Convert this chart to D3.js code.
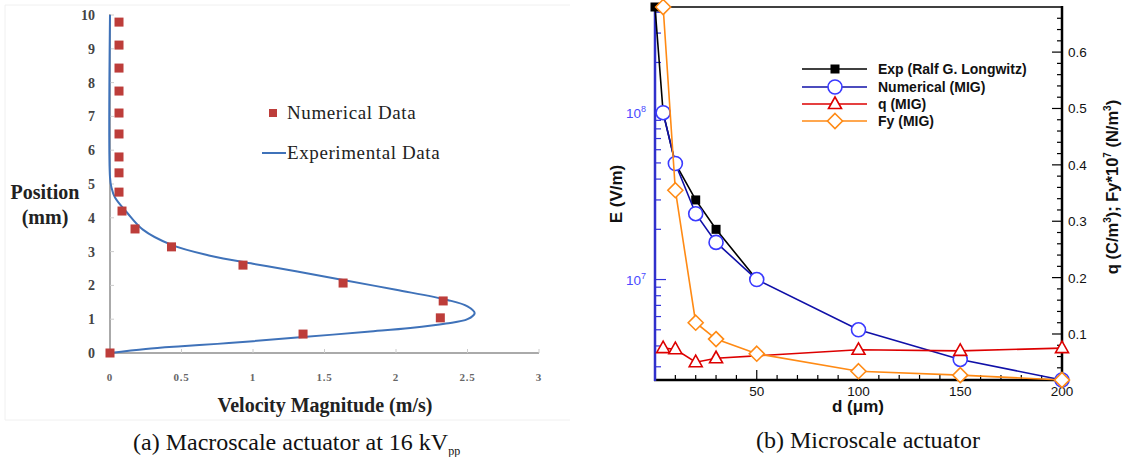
<!DOCTYPE html>
<html>
<head>
<meta charset="utf-8">
<script src="https://cdn.jsdelivr.net/npm/d3@7"></script>
<style>
  body { margin: 0; background: #fff; }
  svg { display: block; }
</style>
</head>
<body>
<svg id="chart" width="1124" height="457"></svg>
<script>
// ---- panel (a) data: velocity (m/s) vs position (mm)
var numVel = [0, 0.063, 0.063, 0.063, 0.063, 0.063, 0.063, 0.063, 0.063, 0.063, 0.084, 0.175, 0.43, 0.93, 1.63, 2.33, 2.31, 1.35];
var numPos = [0, 9.79, 9.11, 8.43, 7.75, 7.10, 6.48, 5.80, 5.33, 4.76, 4.20, 3.67, 3.14, 2.60, 2.07, 1.54, 1.04, 0.56];
var expVel = [0, 0.25, 0.5, 0.75, 1.0, 1.35, 1.8, 2.1, 2.35, 2.5, 2.55, 2.5, 2.36, 2.0, 1.63, 1.3, 1.0, 0.7, 0.43, 0.23, 0.12, 0.035, 0.01, 0, 0];
var expPos = [0, 0.12, 0.2, 0.27, 0.35, 0.47, 0.63, 0.74, 0.87, 1.0, 1.18, 1.38, 1.57, 1.87, 2.16, 2.42, 2.64, 2.88, 3.2, 3.65, 4.15, 4.6, 4.9, 5.2, 10];
var velTicks = [0, 0.5, 1, 1.5, 2, 2.5, 3];
var posTicks = [0, 1, 2, 3, 4, 5, 6, 7, 8, 9, 10];

// ---- panel (b) data: d (um)
var expD = [0, 4, 10, 20, 30, 50];
var expE = [4.3e8, 1e8, 4.96e7, 3.0e7, 2.0e7, 1.0e7];
var numD = [4, 10, 20, 30, 50, 100, 150, 200];
var numE = [1e8, 4.96e7, 2.48e7, 1.67e7, 1.0e7, 5.0e6, 3.32e6, 2.5e6];
var qD = [4, 10, 20, 30, 100, 150, 200];
var qVal = [0.075, 0.073, 0.050, 0.057, 0.072, 0.070, 0.075];
var fyD = [4, 10, 20, 30, 50, 100, 150, 200];
var fyVal = [0.68, 0.355, 0.12, 0.091, 0.065, 0.034, 0.027, 0.0184];
var dTicks = [50, 100, 150, 200];
var rTicks = [0.1, 0.2, 0.3, 0.4, 0.5, 0.6];
var legendNames = ['Exp (Ralf G. Longwitz)', 'Numerical (MIG)', 'q (MIG)', 'Fy (MIG)'];

var svg = d3.select('#chart');
var serif = '"Liberation Serif", "Times New Roman", serif';
var sans = '"Liberation Sans", Arial, sans-serif';

// ================= panel (a) =================
var xa = d3.scaleLinear().domain([0, 3]).range([110, 539]);
var ya = d3.scaleLinear().domain([0, 10]).range([353, 15]);

svg.append('path')
  .attr('d', 'M570,5 H5 V420 H570')
  .attr('fill', 'none').attr('stroke', '#f0f0f0');

var ga = svg.append('g');
// axis lines
ga.append('line').attr('x1', xa(0)).attr('x2', xa(0)).attr('y1', ya(10) - 1).attr('y2', ya(0))
  .attr('stroke', '#aaa').attr('stroke-width', 2);
ga.append('line').attr('x1', xa(0)).attr('x2', xa(3)).attr('y1', ya(0)).attr('y2', ya(0))
  .attr('stroke', '#aaa').attr('stroke-width', 2);
ga.selectAll('line.yt').data(posTicks).enter().append('line').attr('class', 'yt')
  .attr('x1', xa(0)).attr('x2', xa(0) + 4).attr('y1', function(d){ return ya(d); }).attr('y2', function(d){ return ya(d); })
  .attr('stroke', '#ccc');
ga.selectAll('line.xt').data(velTicks).enter().append('line').attr('class', 'xt')
  .attr('x1', function(d){ return xa(d); }).attr('x2', function(d){ return xa(d); }).attr('y1', ya(0)).attr('y2', ya(0) - 4)
  .attr('stroke', '#ccc');
ga.selectAll('text.yl').data(posTicks).enter().append('text').attr('class', 'yl')
  .attr('x', 95).attr('y', function(d){ return ya(d) + 5; })
  .attr('text-anchor', 'end').attr('font-family', serif).attr('font-weight', 'bold')
  .attr('font-size', 14).attr('fill', '#444').text(function(d){ return d; });
ga.selectAll('text.xl').data(velTicks).enter().append('text').attr('class', 'xl')
  .attr('x', function(d){ return xa(d); }).attr('y', 381)
  .attr('text-anchor', 'middle').attr('font-family', serif).attr('font-weight', 'bold')
  .attr('font-size', 11).attr('letter-spacing', 0.8).attr('fill', '#666').text(function(d){ return d; });

// experimental curve
var lineA = d3.line()
  .x(function(d){ return xa(d[0]); })
  .y(function(d){ return ya(d[1]); })
  .curve(d3.curveCatmullRom.alpha(0.5));
ga.append('path').datum(expVel.map(function(v, i){ return [v, expPos[i]]; }))
  .attr('d', lineA).attr('fill', 'none').attr('stroke', '#3f72b9').attr('stroke-width', 2);

// numerical squares
ga.selectAll('rect.num').data(numVel.map(function(v, i){ return [v, numPos[i]]; }))
  .enter().append('rect').attr('class', 'num')
  .attr('x', function(d){ return xa(d[0]) - 4.5; }).attr('y', function(d){ return ya(d[1]) - 4.5; })
  .attr('width', 9).attr('height', 9).attr('fill', '#bd3d3a');

// titles
ga.append('text').attr('x', 45).attr('y', 199).attr('text-anchor', 'middle')
  .attr('font-family', serif).attr('font-weight', 'bold').attr('font-size', 20).attr('fill', '#222').text('Position');
ga.append('text').attr('x', 45).attr('y', 224).attr('text-anchor', 'middle')
  .attr('font-family', serif).attr('font-weight', 'bold').attr('font-size', 20).attr('fill', '#222').text('(mm)');
ga.append('text').attr('x', 325).attr('y', 412).attr('text-anchor', 'middle')
  .attr('font-family', serif).attr('font-weight', 'bold').attr('font-size', 20).attr('fill', '#222').text('Velocity Magnitude (m/s)');

// legend
ga.append('rect').attr('x', 269).attr('y', 109).attr('width', 8).attr('height', 8).attr('fill', '#bd3d3a');
ga.append('text').attr('x', 287).attr('y', 119).attr('font-family', serif).attr('font-size', 19).attr('letter-spacing', 0.6).attr('fill', '#222').text('Numerical Data');
ga.append('line').attr('x1', 262).attr('x2', 286).attr('y1', 153).attr('y2', 153).attr('stroke', '#3f72b9').attr('stroke-width', 2);
ga.append('text').attr('x', 287).attr('y', 159).attr('font-family', serif).attr('font-size', 19).attr('letter-spacing', 0.6).attr('fill', '#222').text('Experimental Data');

// caption
var capA = svg.append('text').attr('x', 133).attr('y', 450).attr('font-family', serif).attr('font-size', 24).attr('fill', '#111');
capA.append('tspan').text('(a) Macroscale actuator at 16 kV');
capA.append('tspan').attr('font-size', 12).attr('dy', 5).text('pp');

// ================= panel (b) =================
var xb = d3.scaleLinear().domain([0, 200]).range([655, 1062]);
var yE = d3.scaleLog().domain([2.5e6, 4.3e8]).range([380, 7]);
var yR = d3.scaleLinear().domain([0.0184, 0.68]).range([380, 7]);
var gb = svg.append('g');

// frame
gb.append('line').attr('x1', 655).attr('x2', 1062).attr('y1', 7).attr('y2', 7).attr('stroke', '#000').attr('stroke-width', 1.5);

// bottom ticks (inward)
var minorD = d3.range(10, 200, 10);
gb.selectAll('line.dt').data(minorD).enter().append('line').attr('class', 'dt')
  .attr('x1', function(d){ return xb(d); }).attr('x2', function(d){ return xb(d); })
  .attr('y1', 380).attr('y2', function(d){ return d % 50 === 0 ? 370 : 375; })
  .attr('stroke', '#000').attr('stroke-width', 1.2);
gb.selectAll('text.dl').data(dTicks).enter().append('text').attr('class', 'dl')
  .attr('x', function(d){ return xb(d); }).attr('y', 396).attr('text-anchor', 'middle')
  .attr('font-family', sans).attr('font-size', 13.5).attr('fill', '#111').text(function(d){ return d; });

// left log axis ticks
var logTicks = [];
[1e6, 1e7, 1e8].forEach(function(b){ for (var k = 1; k < 10; k++) { var v = b * k; if (v >= 2.5e6 && v <= 4.3e8) logTicks.push(v); } });
gb.selectAll('line.et').data(logTicks).enter().append('line').attr('class', 'et')
  .attr('x1', 655).attr('x2', function(d){ return Math.abs(Math.log10(d) % 1) < 1e-9 ? 666 : 661; })
  .attr('y1', function(d){ return yE(d); }).attr('y2', function(d){ return yE(d); })
  .attr('stroke', '#3333dd').attr('stroke-width', 1.2);
[7, 8].forEach(function(p){
  var t = gb.append('text').attr('x', 646).attr('y', yE(Math.pow(10, p)) + 5).attr('text-anchor', 'end')
    .attr('font-family', sans).attr('font-size', 13.5).attr('fill', '#4a4aff');
  t.append('tspan').text('10');
  t.append('tspan').attr('font-size', 9).attr('dy', -6).text(p);
});

// right axis ticks
var minorR = d3.range(2, 68, 2).map(function(k){ return k / 100; });
gb.selectAll('line.rt').data(minorR).enter().append('line').attr('class', 'rt')
  .attr('x1', 1062).attr('x2', function(d){ return Math.round(d * 100) % 10 === 0 ? 1052 : 1057; })
  .attr('y1', function(d){ return yR(d); }).attr('y2', function(d){ return yR(d); })
  .attr('stroke', '#000').attr('stroke-width', 1.2);
gb.selectAll('text.rl').data(rTicks).enter().append('text').attr('class', 'rl')
  .attr('x', 1068).attr('y', function(d){ return yR(d) + 5; })
  .attr('font-family', sans).attr('font-size', 13.5).attr('fill', '#111').text(function(d){ return d.toFixed(1); });

// axis lines
gb.append('line').attr('x1', 654).attr('x2', 1063).attr('y1', 380).attr('y2', 380).attr('stroke', '#000').attr('stroke-width', 2.5);
gb.append('line').attr('x1', 1062).attr('x2', 1062).attr('y1', 6).attr('y2', 381).attr('stroke', '#000').attr('stroke-width', 2.5);
gb.append('line').attr('x1', 655).attr('x2', 655).attr('y1', 6).attr('y2', 381).attr('stroke', '#3030cc').attr('stroke-width', 2.5);

// marker helpers
function sq(sel){ sel.append('rect').attr('x', -4.5).attr('y', -4.5).attr('width', 9).attr('height', 9).attr('fill', '#000'); }
function ci(sel){ sel.append('circle').attr('r', 7).attr('fill', '#fff').attr('stroke', '#3a3aff').attr('stroke-width', 1.6); }
function tri(sel){ sel.append('path').attr('d', 'M0,-7 L6.5,4.5 L-6.5,4.5 Z').attr('fill', '#fff').attr('stroke', '#dd0000').attr('stroke-width', 1.6); }
function dia(sel){ sel.append('path').attr('d', 'M0,-7.5 L7.5,0 L0,7.5 L-7.5,0 Z').attr('fill', '#fff').attr('stroke', '#ff8a14').attr('stroke-width', 1.6); }

var series = [
  { xs: expD, ys: expE, y: yE, line: '#000', mark: sq },
  { xs: numD, ys: numE, y: yE, line: '#1010a8', mark: ci },
  { xs: qD, ys: qVal, y: yR, line: '#dd0000', mark: tri },
  { xs: fyD, ys: fyVal, y: yR, line: '#ff8a14', mark: dia }
];
series.forEach(function(s){
  var pts = s.xs.map(function(d, i){ return [xb(d), s.y(s.ys[i])]; });
  gb.append('path').datum(pts).attr('d', d3.line()).attr('fill', 'none').attr('stroke', s.line).attr('stroke-width', 1.6);
  gb.selectAll(null).data(pts).enter().append('g')
    .attr('transform', function(p){ return 'translate(' + p[0] + ',' + p[1] + ')'; })
    .each(function(){ s.mark(d3.select(this)); });
});

// legend
legendNames.forEach(function(name, i){
  var y = [69, 87, 104, 121][i];
  gb.append('line').attr('x1', 802).attr('x2', 867).attr('y1', y).attr('y2', y).attr('stroke', series[i].line).attr('stroke-width', 1.6);
  var g = gb.append('g').attr('transform', 'translate(835,' + y + ')');
  series[i].mark(g);
  gb.append('text').attr('x', 878).attr('y', y + 5).attr('font-family', sans).attr('font-weight', 'bold')
    .attr('font-size', 14).attr('fill', '#111').text(name);
});

// axis titles
gb.append('text').attr('transform', 'translate(622,194) rotate(-90)').attr('text-anchor', 'middle')
  .attr('font-family', sans).attr('font-weight', 'bold').attr('font-size', 17).attr('fill', '#111').text('E (V/m)');
var rt = gb.append('text').attr('transform', 'translate(1118,187) rotate(-90)').attr('text-anchor', 'middle')
  .attr('font-family', sans).attr('font-weight', 'bold').attr('font-size', 16.5).attr('fill', '#111');
rt.append('tspan').text('q (C/m');
rt.append('tspan').attr('font-size', 10).attr('dy', -7).text('3');
rt.append('tspan').attr('dy', 7).text('); Fy*10');
rt.append('tspan').attr('font-size', 10).attr('dy', -7).text('7');
rt.append('tspan').attr('dy', 7).text(' (N/m');
rt.append('tspan').attr('font-size', 10).attr('dy', -7).text('3');
rt.append('tspan').attr('dy', 7).text(')');
gb.append('text').attr('x', 858).attr('y', 412).attr('text-anchor', 'middle')
  .attr('font-family', sans).attr('font-weight', 'bold').attr('font-size', 17).attr('fill', '#111').text('d (\u03bcm)');

var capB = svg.append('text').attr('x', 868).attr('y', 448).attr('text-anchor', 'middle')
  .attr('font-family', serif).attr('font-size', 24).attr('fill', '#111').text('(b) Microscale actuator');
</script>
</body>
</html>
